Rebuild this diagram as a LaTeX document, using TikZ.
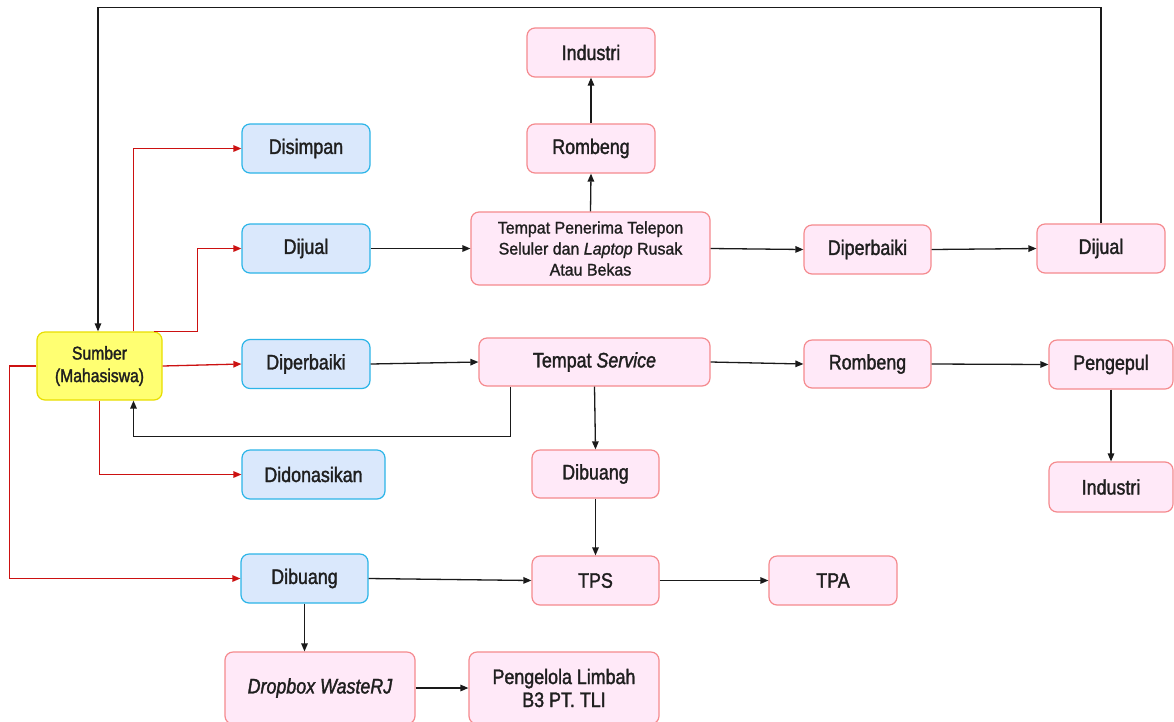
\documentclass[tikz,border=0pt]{standalone}
\usepackage{fontspec}
\setmainfont{Liberation Sans}
\newfontfamily\labelfont{Liberation Sans}[FakeStretch=0.85,FakeBold=1.6]
\newfontfamily\longfont{Liberation Sans}[FakeStretch=0.95,FakeBold=1.3]
\usetikzlibrary{arrows.meta,calc}
\definecolor{bluefill}{HTML}{DAE8FC}
\definecolor{blueline}{HTML}{2CB5E8}
\definecolor{pinkfill}{HTML}{FFE9F8}
\definecolor{pinkline}{HTML}{F58A8E}
\definecolor{yelfill}{HTML}{FFFF72}
\definecolor{yelline}{HTML}{E8DE00}
\definecolor{redline}{HTML}{CC1111}
\definecolor{inkline}{HTML}{1A1A1A}
\tikzset{
  box/.style={rounded corners=8pt, line width=1.2pt, inner sep=0pt, align=center,
    text=black!88, font=\labelfont\fontsize{21}{23}\selectfont},
  bluebox/.style={box, draw=blueline, fill=bluefill},
  pinkbox/.style={box, draw=pinkline, fill=pinkfill},
  longbox/.style={pinkbox, font=\longfont\fontsize{16.8}{21}\selectfont},
  srcbox/.style={box, draw=yelline, fill=yelfill, font=\labelfont\fontsize{18.5}{22.5}\selectfont},
  conn/.style={draw=inkline, line width=1.3pt, -{Triangle[length=8pt,width=6.5pt]}},
  redconn/.style={draw=redline, line width=1.3pt, -{Triangle[length=8pt,width=6.5pt]}},
}
\begin{document}
\begin{tikzpicture}[x=1pt,y=-1pt]
\useasboundingbox (0,0) rectangle (1174,721);
\clip (0,0) rectangle (1174,721);
\fill[white] (0,0) rectangle (1174,721);

% source
\node[srcbox, minimum width=125pt, minimum height=68pt] (sumber) at (99.5,366) {Sumber\\(Mahasiswa)};

% first-level actions
\node[bluebox, minimum width=128pt, minimum height=49pt] (disimpan) at (306,148.5) {Disimpan};
\node[bluebox, minimum width=128pt, minimum height=49pt] (dijualA) at (306,248.5) {Dijual};
\node[bluebox, minimum width=128pt, minimum height=49pt] (diperbaikiA) at (306,364) {Diperbaiki};
\node[bluebox, minimum width=143pt, minimum height=49pt] (didonasi) at (313.5,474.5) {Didonasikan};
\node[bluebox, minimum width=127pt, minimum height=49pt] (dibuangA) at (304.5,578.5) {Dibuang};

% selling branch
\node[pinkbox, minimum width=128pt, minimum height=49pt] (industriA) at (591,52.5) {Industri};
\node[pinkbox, minimum width=128pt, minimum height=49pt] (rombengA) at (591,148.5) {Rombeng};
\node[longbox, minimum width=239pt, minimum height=73pt] (penerima) at (590.5,248.5)
  {Tempat Penerima Telepon\\Seluler dan \textit{Laptop} Rusak\\Atau Bekas};
\node[pinkbox, minimum width=127pt, minimum height=49pt] (diperbaikiB) at (867.5,249.5) {Diperbaiki};
\node[pinkbox, minimum width=128pt, minimum height=49pt] (dijualB) at (1101,248.5) {Dijual};

% repair branch
\node[pinkbox, minimum width=231pt, minimum height=48pt] (service) at (594.5,362) {Tempat \textit{Service}};
\node[pinkbox, minimum width=127pt, minimum height=48pt] (rombengB) at (867.5,364) {Rombeng};
\node[pinkbox, minimum width=124pt, minimum height=49pt] (pengepul) at (1111,364.5) {Pengepul};
\node[pinkbox, minimum width=124pt, minimum height=50pt] (industriB) at (1111,487) {Industri};
\node[pinkbox, minimum width=127pt, minimum height=48pt] (dibuangB) at (595.5,474) {Dibuang};

% disposal branch
\node[pinkbox, minimum width=127pt, minimum height=49pt] (tps) at (595.5,580.5) {TPS};
\node[pinkbox, minimum width=128pt, minimum height=49pt] (tpa) at (833,580.5) {TPA};
\node[pinkbox, minimum width=190pt, minimum height=72pt] (dropbox) at (320,688) {\textit{Dropbox WasteRJ}};
\node[pinkbox, minimum width=190pt, minimum height=72pt] (pengelola) at (564,688) {Pengelola Limbah\\B3 PT. TLI};

% red connectors from the source
\draw[redconn] ([xshift=34pt]sumber.north) |- (disimpan.west);
\draw[redconn] ([xshift=54pt]sumber.north) -- ++(44,0) |- (dijualA.west);
\draw[redconn] (sumber.east) -- (diperbaikiA.west);
\draw[redconn] (sumber.south) |- (didonasi.west);
\draw[redconn] (sumber.west) -- ++(-27,0) |- (dibuangA.west);

% feedback loops back to the source
\draw[conn] (dijualB.north) -- ++(0,-216) -| ([xshift=-1.5pt]sumber.north);
\draw[conn] ([xshift=-84pt]service.south) -- ++(0,50) -| ([xshift=34pt]sumber.south);

% selling branch
\draw[conn] (dijualA.east) -- (penerima.west);
\draw[conn] (penerima.north) -- (rombengA.south);
\draw[conn] (rombengA.north) -- (industriA.south);
\draw[conn] (penerima.east) -- (diperbaikiB.west);
\draw[conn] (diperbaikiB.east) -- (dijualB.west);

% repair branch
\draw[conn] (diperbaikiA.east) -- (service.west);
\draw[conn] (service.east) -- (rombengB.west);
\draw[conn] (rombengB.east) -- (pengepul.west);
\draw[conn] (pengepul.south) -- (industriB.north);
\draw[conn] (service.south) -- (dibuangB.north);

% disposal branch
\draw[conn] (dibuangB.south) -- (tps.north);
\draw[conn] (dibuangA.east) -- (tps.west);
\draw[conn] (tps.east) -- (tpa.west);
\draw[conn] (dibuangA.south) -- ([xshift=-15.5pt]dropbox.north);
\draw[conn] (dropbox.east) -- (pengelola.west);
\end{tikzpicture}
\end{document}
